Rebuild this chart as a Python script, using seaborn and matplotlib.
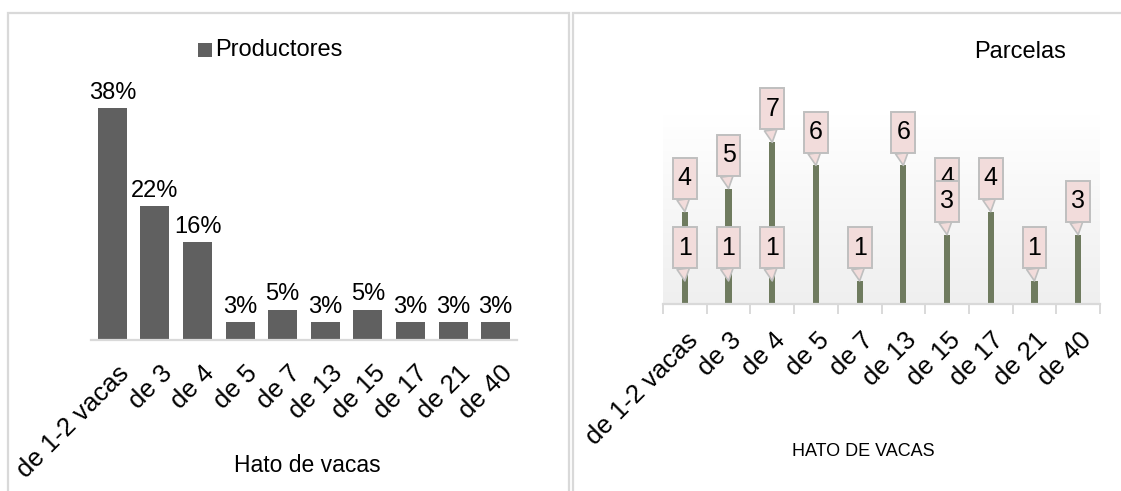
import numpy as np
import pandas as pd
import matplotlib
matplotlib.use("Agg")
import matplotlib.pyplot as plt
from matplotlib.patches import Rectangle
from matplotlib.path import Path
from matplotlib.transforms import ScaledTranslation
from matplotlib.colors import LinearSegmentedColormap
import seaborn as sns

# ---------------- data ----------------
categories = ["de 1-2 vacas", "de 3", "de 4", "de 5", "de 7",
              "de 13", "de 15", "de 17", "de 21", "de 40"]
productores_pct = [38, 22, 16, 3, 5, 3, 5, 3, 3, 3]
parcelas = [4, 5, 7, 6, 1, 6, 3, 4, 1, 3]
parcelas_extra = [1, 1, 1, None, None, None, 4, None, None, None]

sns.set_theme(style="white")
plt.rcParams["font.family"] = ["Liberation Sans", "DejaVu Sans"]

W, H = 1121, 491
fig = plt.figure(figsize=(W / 100, H / 100), dpi=100)

def px_axes(x0, y_top, x1, y_bot):
    return fig.add_axes([x0 / W, 1 - y_bot / H, (x1 - x0) / W, (y_bot - y_top) / H])

border = "#d9d9d9"
txt = "#000000"
# panel borders
fig.patches.append(Rectangle((8 / W, -0.1), (569 - 8) / W, 1.1 - 13 / H,
                             transform=fig.transFigure, fill=False, ec=border, lw=1.6))
fig.patches.append(Rectangle((573 / W, -0.1), 0.5, 1.1 - 13 / H,
                             transform=fig.transFigure, fill=False, ec=border, lw=1.6))


def style_ticklabels(ax, dx_px, dy_px):
    off = ScaledTranslation(dx_px / 100, -dy_px / 100, fig.dpi_scale_trans)
    for lab in ax.get_xticklabels():
        lab.set_rotation(45)
        lab.set_ha("right")
        lab.set_rotation_mode("anchor")
        lab.set_fontsize(18.5)
        lab.set_color(txt)
        lab.set_transform(lab.get_transform() + off)


# ---------------- left chart ----------------
axL = px_axes(91, 70, 517, 340)
dfL = pd.DataFrame({"cat": categories, "val": productores_pct})
sns.barplot(data=dfL, x="cat", y="val", ax=axL, color="#606060", width=0.68,
            saturation=1, edgecolor="none")
axL.set_ylim(0, 44.3)
axL.set_xlim(-0.5, len(categories) - 0.5)
for s in ["top", "right", "left"]:
    axL.spines[s].set_visible(False)
axL.spines["bottom"].set_color(border)
axL.spines["bottom"].set_linewidth(1.6)
axL.set_yticks([])
axL.set_ylabel("")
axL.set_xlabel("")
axL.tick_params(axis="x", length=0, pad=11)
style_ticklabels(axL, 5, 6)
for i, v in enumerate(productores_pct):
    axL.annotate(f"{v}%", xy=(i, v), xytext=(0, 3), textcoords="offset points",
                 ha="center", va="bottom", fontsize=17, color=txt)
axL.set_facecolor("none")
fig.text(307 / W, 1 - 466 / H, "Hato de vacas", fontsize=16.5, ha="center",
         va="center", color=txt)
# legend
fig.patches.append(Rectangle((198 / W, 1 - 57 / H), 14 / W, 14 / H,
                             transform=fig.transFigure, fc="#606060", ec="none"))
fig.text(215 / W, 1 - 50 / H, "Productores", fontsize=17, va="center", ha="left",
         color=txt)

# ---------------- right chart ----------------
axR = px_axes(663, 115, 1100, 304)
dfR = pd.DataFrame({"cat": categories, "val": parcelas})
ymaxR = 189 / 23.1
# gradient background
cmap = LinearSegmentedColormap.from_list("g", ["#ffffff", "#efefef"])
grad = np.linspace(0, 1, 256).reshape(-1, 1)
axR.imshow(grad, aspect="auto", cmap=cmap, extent=(-0.5, 9.5, 0, ymaxR),
           origin="upper", zorder=0)
sns.barplot(data=dfR, x="cat", y="val", ax=axR, color="#6f7b5f", width=0.14,
            saturation=1, edgecolor="none", zorder=2)
axR.set_ylim(0, ymaxR)
axR.set_xlim(-0.5, len(categories) - 0.5)
for s in ["top", "right", "left"]:
    axR.spines[s].set_visible(False)
axR.spines["bottom"].set_color(border)
axR.spines["bottom"].set_linewidth(1.6)
axR.set_yticks([])
axR.set_ylabel("")
axR.set_xlabel("")
axR.set_xticks(np.arange(-0.5, 10, 1), minor=True)
axR.tick_params(axis="x", which="minor", length=7, width=1.4, color=border,
                direction="out", bottom=True)
axR.tick_params(axis="x", which="major", length=0, pad=21)
style_ticklabels(axR, 1, -5)


def tall_box(x0, y0, width, height, mutation_size):
    padx = 0.2 * mutation_size
    pady = 0.34 * mutation_size
    x0, y0 = x0 - padx, y0 - pady
    x1, y1 = x0 + width + 2 * padx, y0 + height + 2 * pady
    return Path([(x0, y0), (x1, y0), (x1, y1), (x0, y1), (x0, y0)],
                closed=True)


def callout(ax, i, v):
    ax.annotate(str(v), xy=(i, v), xytext=(0, 24), textcoords="offset points",
                ha="center", va="center", fontsize=18, color=txt, zorder=5,
                annotation_clip=False,
                bbox=dict(boxstyle=tall_box, fc="#f2dcdb", ec="#bfbfbf", lw=1.4),
                arrowprops=dict(arrowstyle="wedge,tail_width=0.5,shrink_factor=0.5",
                                fc="#f2dcdb", ec="#bfbfbf", lw=1.2,
                                relpos=(0.3, 0.0), shrinkA=0, shrinkB=0))

for i, v in enumerate(parcelas_extra):
    if v is not None:
        callout(axR, i, v)
for i, v in enumerate(parcelas):
    callout(axR, i, v)

fig.text(1020 / W, 1 - 52 / H, "Parcelas", fontsize=17, ha="center", va="center",
         color=txt)
fig.text(863 / W, 1 - 452 / H, "HATO DE VACAS", fontsize=13, ha="center", va="center",
         color=txt)

fig.savefig("out.png", dpi=100)
